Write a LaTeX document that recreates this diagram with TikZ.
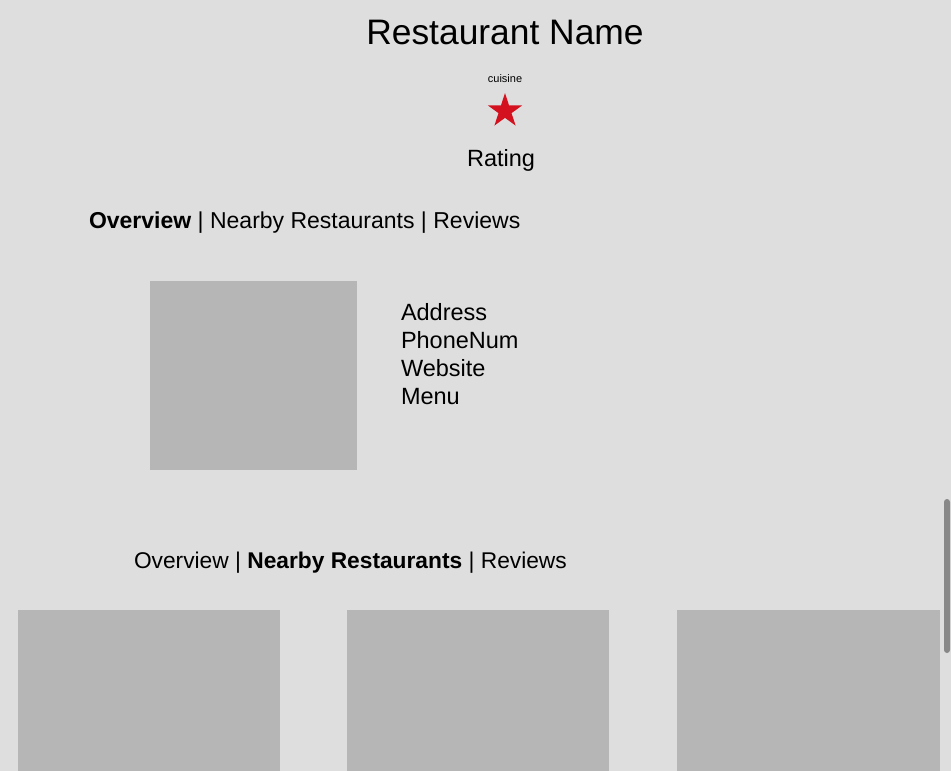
\documentclass[tikz,border=0pt]{standalone}
\usepackage{fontspec}
\setmainfont{Liberation Sans}
\usetikzlibrary{shapes.geometric}
\definecolor{bg}{HTML}{DEDEDE}
\definecolor{boxgrey}{HTML}{B6B6B6}
\definecolor{starred}{HTML}{D3111F}
\definecolor{scroll}{HTML}{888888}
\tikzset{
  txt/.style={inner sep=0pt, outer sep=0pt, text=black},
  imgbox/.style={fill=boxgrey, draw=none},
  tabs/.style={txt, anchor=base west, font=\fontsize{23}{28}\selectfont},
  info/.style={txt, anchor=base west, font=\fontsize{23.5}{28}\selectfont},
}
\begin{document}
\begin{tikzpicture}[x=1pt,y=-1pt]
  \fill[bg] (0,0) rectangle (951,771);
  \useasboundingbox (0,0) rectangle (951,771);
  % title
  \node[txt, anchor=base, font=\fontsize{35.4}{40}\selectfont] (title) at (505,44) {Restaurant Name};
  \node[txt, anchor=base, font=\fontsize{11}{13}\selectfont] (cuisine) at (505,82) {cuisine};
  \node[star, star points=5, star point ratio=2.618, minimum size=36pt, inner sep=0pt, fill=starred, draw=none] (star) at (505,111) {};
  \node[txt, anchor=base, font=\fontsize{23.5}{28}\selectfont] (rating) at (501,166) {Rating};
  % tabs 1
  \node[tabs] (tabs1) at (89,228) {\textbf{Overview} | Nearby Restaurants | Reviews};
  % overview content
  \fill[imgbox] (150,281) rectangle (357,470);
  \node[info] (addr) at (401,320) {Address};
  \node[info] (phone) at (401,348) {PhoneNum};
  \node[info] (web) at (401,376) {Website};
  \node[info] (menu) at (401,404) {Menu};
  % tabs 2
  \node[tabs, font=\fontsize{22.75}{28}\selectfont] (tabs2) at (134,568) {Overview | \textbf{Nearby Restaurants} | Reviews};
  % nearby boxes
  \fill[imgbox] (18,610) rectangle (280,771);
  \fill[imgbox] (347,610) rectangle (609,771);
  \fill[imgbox] (677,610) rectangle (940,771);
  % scrollbar
  \fill[scroll, rounded corners=3pt] (944,499) rectangle (950,653);
\end{tikzpicture}
\end{document}
